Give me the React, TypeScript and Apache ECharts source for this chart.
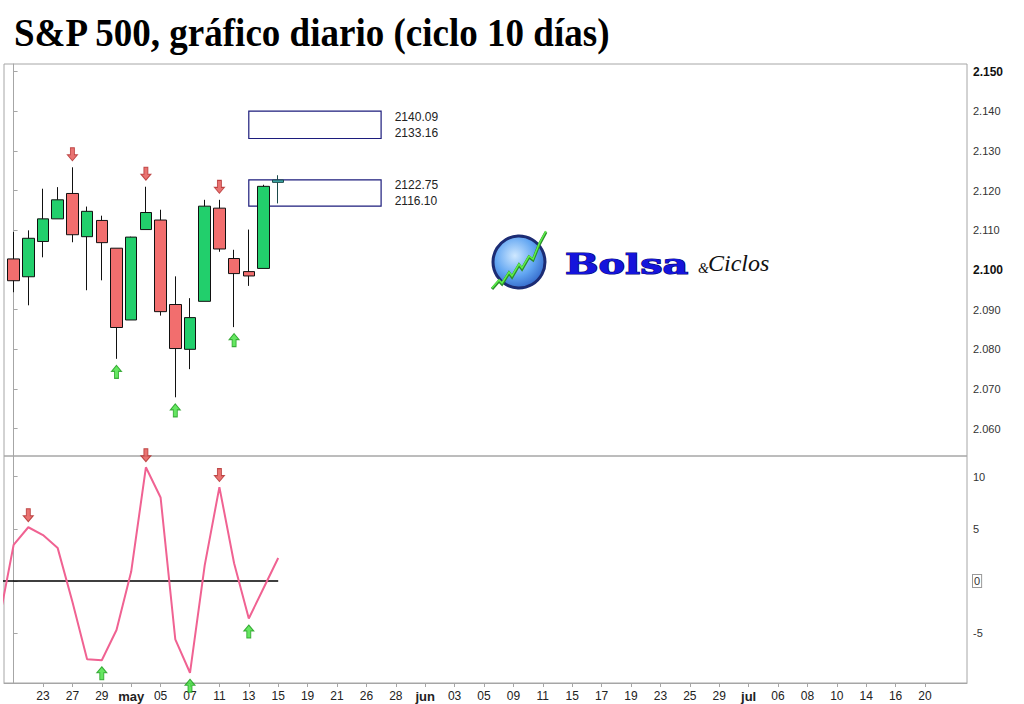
import React, { useEffect, useRef } from "react";
import * as echarts from "echarts";

// ---- data ----
const dates = ["21 abr", "22 abr", "23 abr", "24 abr", "27 abr", "28 abr", "29 abr", "30 abr", "1 may", "4 may", "5 may", "6 may", "7 may", "8 may", "11 may", "12 may", "13 may", "14 may", "15 may"];
const openP = [2102.8, 2098.3, 2107.2, 2112.9, 2119.3, 2108.4, 2112.5, 2105.5, 2087.4, 2110.2, 2112.6, 2091.3, 2080.0, 2092.1, 2115.6, 2102.9, 2099.6, 2100.4, 2122.1];
const closeP = [2097.3, 2108.0, 2112.9, 2117.7, 2108.9, 2114.8, 2106.9, 2085.5, 2108.3, 2114.5, 2089.5, 2080.2, 2088.0, 2116.1, 2105.3, 2099.1, 2098.5, 2121.1, 2122.7];
const lowP = [2094.4, 2091.1, 2103.2, 2112.9, 2107.0, 2094.9, 2097.4, 2077.6, 2087.4, 2110.2, 2088.5, 2067.9, 2075.0, 2092.1, 2104.6, 2085.6, 2096.0, 2100.4, 2116.8];
const highP = [2109.6, 2110.0, 2120.5, 2120.9, 2125.9, 2116.0, 2113.7, 2105.5, 2108.4, 2121.0, 2115.2, 2098.4, 2092.9, 2117.7, 2117.7, 2105.1, 2110.2, 2121.5, 2123.9];

// cycle oscillator, first value is the session before the first candle (20 abr)
const oscStart = -1;
const oscValues = [-3.9, 3.45, 5.15, 4.4, 3.15, -2.0, -7.5, -7.6, -4.7, 0.9, 10.9, 8.0, -5.6, -8.8, 1.5, 9.0, 1.7, -3.6, -0.7, 2.2];

// cycle turning points (candle indices)
const priceTopIdx = [4, 9, 14];
const priceBottomIdx = [7, 11, 15];
const oscTopIdx = [1, 9, 14];
const oscBottomIdx = [6, 12, 16];

// projection boxes
const boxHigh = [2140.09, 2122.75];
const boxLow = [2133.16, 2116.1];
const boxFrom = 16;
const boxTo = 25;

// axis ticks
const tickLabels = ["23", "27", "29", "may", "05", "07", "11", "13", "15", "19", "21", "26", "28", "jun", "03", "05", "09", "11", "15", "17", "19", "23", "25", "29", "jul", "06", "08", "10", "14", "16", "20"];
const tickPositions = [2, 4, 6, 8, 10, 12, 14, 16, 18, 20, 22, 24, 26, 28, 30, 32, 34, 36, 38, 40, 42, 44, 46, 48, 50, 52, 54, 56, 58, 60, 62];
const monthLabels = ["may", "jun", "jul"];
const priceTicks = [2060, 2070, 2080, 2090, 2100, 2110, 2120, 2130, 2140, 2150];
const priceBold = [2100, 2150];
const oscTicks = [-5, 0, 5, 10];

const title = "S&P 500, gráfico diario (ciclo 10 días)";

const X_MIN = -0.653;
const X_MAX = 64.857;

const DOWN_ARROW = "path://M3,0L7,0L7,7L10,7L5,13L0,7L3,7Z";
const UP_ARROW = "path://M5,0L10,6L7,6L7,13L3,13L3,6L0,6Z";

const FONT = "Liberation Sans";

function fmtPrice(v: number) {
  const s = String(Math.round(v));
  return s.slice(0, 1) + "." + s.slice(1);
}

export default function App() {
  const ref = useRef<HTMLDivElement>(null);
  useEffect(() => {
    if (!ref.current) return;
    const chart = echarts.init(ref.current, undefined, { renderer: "svg" });

    const candleData = dates.map((d, i) => {
      const item: any = { name: d, value: [i, openP[i], closeP[i], lowP[i], highP[i]] };
      if (i === dates.length - 1) {
        item.itemStyle = { color: "#3fb0b0", borderColor: "#1a4a4a" };
      }
      return item;
    });

    const redArrow = { color: "#e4504e", borderColor: "#b02a2a", borderWidth: 1 };
    const greenArrow = { color: "#3ee03a", borderColor: "#1a9a1a", borderWidth: 1 };

    const option: any = {
      animation: false,
      backgroundColor: "#ffffff",
      grid: [
        { left: 4, top: 64, width: 963, height: 392, show: true, borderColor: "#a6a6a6", borderWidth: 1 },
        { left: 4, top: 456, width: 963, height: 227, show: true, borderColor: "#a6a6a6", borderWidth: 1 },
      ],
      xAxis: [
        { type: "value", gridIndex: 0, min: X_MIN, max: X_MAX, show: false, splitLine: { show: false } },
        {
          type: "value",
          gridIndex: 1,
          min: X_MIN,
          max: X_MAX,
          axisLine: { show: true, onZero: false, lineStyle: { color: "#a6a6a6" } },
          axisTick: { show: true, customValues: tickPositions, length: 4, lineStyle: { color: "#a6a6a6" } },
          splitLine: { show: false },
          axisLabel: {
            customValues: tickPositions,
            color: "#222",
            fontSize: 12,
            fontFamily: FONT,
            margin: 7,
            formatter: (v: number) => {
              const k = tickPositions.indexOf(Math.round(v));
              const t = k >= 0 ? tickLabels[k] : "";
              return monthLabels.includes(t) ? `{m|${t}}` : t;
            },
            rich: { m: { fontWeight: "bold", fontSize: 13, color: "#222", fontFamily: FONT } },
          },
        },
      ],
      yAxis: [
        {
          type: "value",
          gridIndex: 0,
          position: "right",
          min: 2053.1,
          max: 2151.95,
          axisLine: { show: true, lineStyle: { color: "#a6a6a6" } },
          axisTick: { show: true, customValues: priceTicks, length: 4, lineStyle: { color: "#a6a6a6" } },
          splitLine: { show: false },
          axisLabel: {
            customValues: priceTicks,
            color: "#333",
            fontSize: 11,
            fontFamily: FONT,
            margin: 6,
            formatter: (v: number) => (priceBold.includes(Math.round(v)) ? `{b|${fmtPrice(v)}}` : fmtPrice(v)),
            rich: { b: { fontWeight: "bold", fontSize: 12, color: "#111", fontFamily: FONT } },
          },
        },
        {
          type: "value",
          gridIndex: 1,
          position: "right",
          min: -9.78,
          max: 11.98,
          axisLine: { show: true, lineStyle: { color: "#a6a6a6" } },
          axisTick: { show: true, customValues: oscTicks, length: 4, lineStyle: { color: "#a6a6a6" } },
          splitLine: { show: false },
          axisLabel: {
            customValues: oscTicks,
            color: "#333",
            fontSize: 11,
            fontFamily: FONT,
            margin: 6,
            formatter: (v: number) => (Math.round(v) === 0 ? "{z|0}" : String(Math.round(v))),
            rich: { z: { borderColor: "#999", borderWidth: 1, backgroundColor: "#fff", padding: [1, 1, 0, 1], fontSize: 11, color: "#333", fontFamily: FONT } },
          },
        },
      ],
      series: [
        {
          type: "candlestick",
          xAxisIndex: 0,
          yAxisIndex: 0,
          barWidth: 12,
          data: candleData,
          itemStyle: {
            color: "#22cf6c",
            color0: "#f26e6e",
            borderColor: "#111",
            borderColor0: "#111",
            borderWidth: 1,
          },
          markArea: {
            silent: true,
            itemStyle: { color: "rgba(0,0,0,0)", borderColor: "#1c1c7c", borderWidth: 1.2 },
            label: {
              show: true,
              position: "right",
              distance: 13,
              color: "#222",
              fontSize: 12,
              lineHeight: 16,
              fontFamily: FONT,
              formatter: "{b}",
            },
            data: boxHigh.map((h, k) => [
              { name: `${h.toFixed(2)}\n${boxLow[k].toFixed(2)}`, xAxis: boxFrom, yAxis: boxLow[k] },
              { xAxis: boxTo, yAxis: h },
            ]),
          },
        },
        {
          type: "scatter",
          xAxisIndex: 0,
          yAxisIndex: 0,
          symbol: DOWN_ARROW,
          symbolSize: [10, 13],
          symbolOffset: [0, -13],
          clip: false,
          itemStyle: redArrow,
          data: priceTopIdx.map((i) => [i, highP[i]]),
          z: 5,
        },
        {
          type: "scatter",
          xAxisIndex: 0,
          yAxisIndex: 0,
          symbol: UP_ARROW,
          symbolSize: [10, 13],
          symbolOffset: [0, 13],
          clip: false,
          itemStyle: greenArrow,
          data: priceBottomIdx.map((i) => [i, lowP[i]]),
          z: 5,
        },
        {
          type: "line",
          xAxisIndex: 1,
          yAxisIndex: 1,
          symbol: "none",
          lineStyle: { color: "#000", width: 1.3 },
          data: oscValues.map((_, k) => [k + oscStart, 0]),
          z: 2,
        },
        {
          type: "line",
          xAxisIndex: 1,
          yAxisIndex: 1,
          symbol: "none",
          lineStyle: { color: "#f06292", width: 2 },
          data: oscValues.map((v, k) => [k + oscStart, v]),
          z: 3,
        },
        {
          type: "scatter",
          xAxisIndex: 1,
          yAxisIndex: 1,
          symbol: DOWN_ARROW,
          symbolSize: [10, 13],
          symbolOffset: [0, -12],
          clip: false,
          itemStyle: redArrow,
          data: oscTopIdx.map((i) => [i, oscValues[i - oscStart]]),
          z: 5,
        },
        {
          type: "scatter",
          xAxisIndex: 1,
          yAxisIndex: 1,
          symbol: UP_ARROW,
          symbolSize: [10, 13],
          symbolOffset: [0, 13],
          clip: false,
          itemStyle: greenArrow,
          data: oscBottomIdx.map((i) => [i, oscValues[i - oscStart]]),
          z: 5,
        },
      ],
      graphic: [
        {
          type: "text",
          x: 14,
          y: 33,
          scaleX: 0.95,
          style: {
            text: title,
            fontFamily: "Liberation Serif",
            fontWeight: "bold",
            fontSize: 39,
            fill: "#000",
            textAlign: "left",
            textVerticalAlign: "middle",
            align: "left",
            verticalAlign: "middle",
          },
        },
        {
          type: "group",
          children: [
            {
              type: "circle",
              shape: { cx: 519, cy: 262, r: 26 },
              style: {
                fill: new echarts.graphic.RadialGradient(0.42, 0.38, 0.7, [
                  { offset: 0, color: "#cfe8ff" },
                  { offset: 0.55, color: "#62a6f2" },
                  { offset: 1, color: "#2a5cc2" },
                ]),
                stroke: "#1c2c74",
                lineWidth: 3,
              },
            },
            {
              type: "polyline",
              shape: {
                points: [
                  [492, 289], [499, 281], [502, 284], [509, 273], [512, 277], [519, 265],
                  [522, 269], [529, 257], [533, 260], [539, 245], [546, 232],
                ],
              },
              style: { stroke: "#2b8f2b", lineWidth: 3, fill: "none" },
            },
            {
              type: "polyline",
              shape: {
                points: [
                  [492, 288], [499, 280], [502, 283], [509, 272], [512, 276], [519, 264],
                  [522, 268], [529, 256], [533, 259], [539, 244], [546, 231],
                ],
              },
              style: { stroke: "#5ef04a", lineWidth: 1.5, fill: "none" },
            },
            {
              type: "text",
              x: 565,
              y: 264,
              scaleX: 1.42,
              style: {
                text: "Bolsa",
                fontFamily: "DejaVu Serif",
                fontWeight: "bold",
                fontSize: 28,
                fill: "#1414dc",
                stroke: "#0a0a78",
                lineWidth: 1.2,
                textAlign: "left",
                textVerticalAlign: "middle",
                align: "left",
                verticalAlign: "middle",
              },
            },
            {
              type: "text",
              x: 698,
              y: 268,
              style: {
                text: "&",
                fontFamily: "Liberation Serif",
                fontStyle: "italic",
                fontSize: 14,
                fill: "#111",
                textAlign: "left",
                textVerticalAlign: "middle",
                align: "left",
                verticalAlign: "middle",
              },
            },
            {
              type: "text",
              x: 708,
              y: 263,
              style: {
                text: "Ciclos",
                fontFamily: "Liberation Serif",
                fontStyle: "italic",
                fontSize: 24,
                fill: "#111",
                textAlign: "left",
                textVerticalAlign: "middle",
                align: "left",
                verticalAlign: "middle",
              },
            },
          ],
        },
      ],
    };

    chart.setOption(option);
    return () => chart.dispose();
  }, []);

  return (
    <div
      ref={ref}
      style={{ position: "absolute", left: 0, top: 0, width: 1024, height: 704, background: "#fff" }}
    />
  );
}
